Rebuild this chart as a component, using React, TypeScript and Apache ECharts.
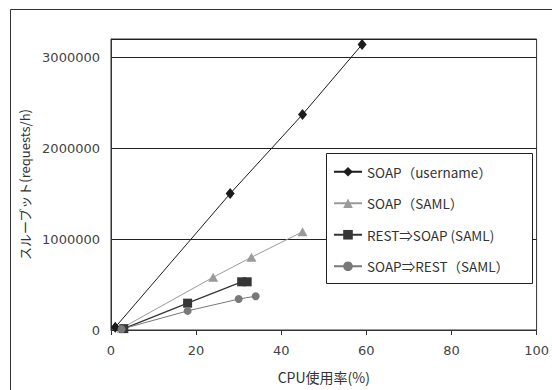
import React, { useEffect, useRef } from "react";
import * as echarts from "echarts";

const seriesNames = [
  "SOAP（username）",
  "SOAP（SAML）",
  "REST⇒SOAP (SAML)",
  "SOAP⇒REST（SAML）",
];
const soapUsername: [number, number][] = [
  [1, 30000],
  [28, 1500000],
  [45, 2370000],
  [59, 3140000],
];
const soapSaml: [number, number][] = [
  [2.5, 20000],
  [24, 580000],
  [33, 800000],
  [45, 1080000],
];
const restToSoap: [number, number][] = [
  [3, 15000],
  [18, 295000],
  [30.7, 530000],
  [32, 530000],
];
const soapToRest: [number, number][] = [
  [2.5, 10000],
  [18, 210000],
  [30, 340000],
  [34, 372000],
];
const xTicks = [0, 20, 40, 60, 80, 100];
const yTicks = [0, 1000000, 2000000, 3000000];

export default function App() {
  const ref = useRef<HTMLDivElement>(null);
  useEffect(() => {
    document.body.style.margin = "0";
    const chart = echarts.init(ref.current!, undefined, { renderer: "svg" });
    const labelFont = "DejaVu Sans";
    const cjk = "'Noto Sans CJK JP'";
    const mk = (
      name: string,
      data: [number, number][],
      color: string,
      symbol: string,
      size: number | number[],
      width: number
    ) => ({
      name,
      type: "line",
      data,
      symbol,
      symbolSize: size,
      showAllSymbol: true,
      itemStyle: { color },
      lineStyle: { color, width },
      emphasis: { disabled: true },
    });
    chart.setOption({
      animation: false,
      backgroundColor: "#ffffff",
      graphic: [
        {
          type: "rect",
          shape: { x: 10.5, y: 9.5, width: 600, height: 420 },
          style: { fill: "none", stroke: "#333", lineWidth: 1 },
          z: 1,
        },
        {
          type: "rect",
          shape: { x: 326.5, y: 153.5, width: 206, height: 130 },
          style: { fill: "#ffffff", stroke: "#222", lineWidth: 1 },
          z: 5,
        },
      ],
      grid: {
        left: 111,
        right: 12,
        top: 39,
        bottom: 60,
        show: true,
        borderColor: "#333",
        borderWidth: 1,
        backgroundColor: "#fff",
      },
      legend: {
        orient: "vertical",
        left: 333,
        top: 165,
        padding: 0,
        itemGap: 18,
        itemWidth: 28,
        itemHeight: 12,
        z: 10,
        data: seriesNames,
        textStyle: { fontFamily: cjk, fontSize: 13.5, color: "#333" },
      },
      xAxis: {
        type: "value",
        min: 0,
        max: 100,
        interval: 20,
        name: "CPU使用率(%)",
        nameLocation: "middle",
        nameGap: 40,
        nameTextStyle: { fontFamily: cjk, fontSize: 14, color: "#333" },
        axisLine: { show: true, lineStyle: { color: "#333" } },
        axisTick: { show: true, length: 5, lineStyle: { color: "#333" } },
        splitLine: { show: false },
        axisLabel: {
          margin: 14,
          fontFamily: labelFont,
          fontSize: 13,
          color: "#444",
          formatter: (v: number) => (xTicks.includes(v) ? String(v) : ""),
        },
      },
      yAxis: {
        type: "value",
        min: 0,
        max: 3200000,
        interval: 1000000,
        name: "スループット(requests/h)",
        nameLocation: "middle",
        nameRotate: 90,
        nameGap: 73,
        nameTextStyle: { fontFamily: cjk, fontSize: 13, color: "#333" },
        axisLine: { show: true, lineStyle: { color: "#333" } },
        axisTick: { show: false },
        splitLine: { show: true, lineStyle: { color: "#222", width: 1 } },
        axisLabel: {
          margin: 11,
          showMaxLabel: false,
          fontFamily: labelFont,
          fontSize: 13,
          color: "#444",
          formatter: (v: number) => (yTicks.includes(v) ? String(v) : ""),
        },
      },
      series: [
        mk(seriesNames[0], soapUsername, "#1c1c1c", "diamond", [9, 11], 1),
        mk(seriesNames[1], soapSaml, "#9a9a9a", "triangle", [10, 9], 1),
        mk(seriesNames[2], restToSoap, "#363636", "rect", 9, 1.3),
        mk(seriesNames[3], soapToRest, "#787878", "circle", 8, 1),
      ],
    });
    return () => chart.dispose();
  }, []);
  return <div ref={ref} style={{ width: 552, height: 390 }} />;
}
